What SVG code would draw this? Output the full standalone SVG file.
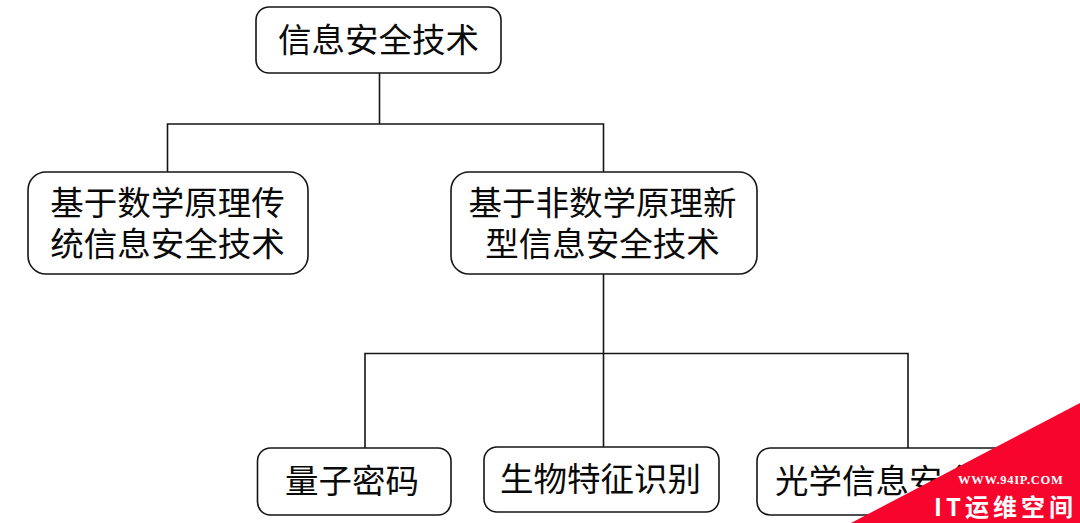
<svg xmlns="http://www.w3.org/2000/svg" width="1080" height="523" viewBox="0 0 1080 523">
<style>
.n{fill:#fff;stroke:#151515;stroke-width:1.6}
.t{font-family:"Noto Sans CJK SC","Noto Sans",sans-serif;font-size:33.5px;fill:#0a0a0a;text-anchor:middle}
.c{fill:none;stroke:#151515;stroke-width:1.6}
</style>
<rect width="1080" height="523" fill="#fff"/>
<g id="connectors">
<path class="c" d="M379.500 73V124M167.500 172V124H603.500V172"/>
<path class="c" d="M603.500 274V447M365 448V353.500H908V448"/>
</g>
<g id="n1"><rect class="n" x="256" y="7" width="245" height="66" rx="13"/><text class="t" x="378.500" y="52">信息安全技术</text></g>
<g id="n2"><rect class="n" x="28" y="172" width="280" height="102" rx="18"/><text class="t" x="167.500" y="215">基于数学原理传</text><text class="t" x="167.500" y="256">统信息安全技术</text></g>
<g id="n3"><rect class="n" x="451" y="172" width="306" height="102" rx="18"/><text class="t" x="602.500" y="215">基于非数学原理新</text><text class="t" x="602.500" y="256">型信息安全技术</text></g>
<g id="n4"><rect class="n" x="257.500" y="448" width="193.500" height="67" rx="13"/><text class="t" x="352" y="493">量子密码</text></g>
<g id="n5"><rect class="n" x="484" y="447" width="235" height="65" rx="13"/><text class="t" x="600.500" y="491">生物特征识别</text></g>
<g id="n6"><rect class="n" x="757" y="448" width="270" height="67" rx="13"/><text class="t" x="775" y="493" style="text-anchor:start">光学信息安全</text></g>
<g id="watermark">
<polygon points="1080,403 1080,523 851,523" fill="#f8052d"/>
<text x="958" y="484" font-family="Liberation Serif,serif" font-size="12.500" font-weight="700" fill="#fff" letter-spacing="0.700">WWW.94IP.COM</text>
<text x="934" y="516" font-family="Noto Sans CJK SC,sans-serif" font-size="24" font-weight="700" fill="#fff" letter-spacing="4">IT运维空间</text>
</g>
</svg>
